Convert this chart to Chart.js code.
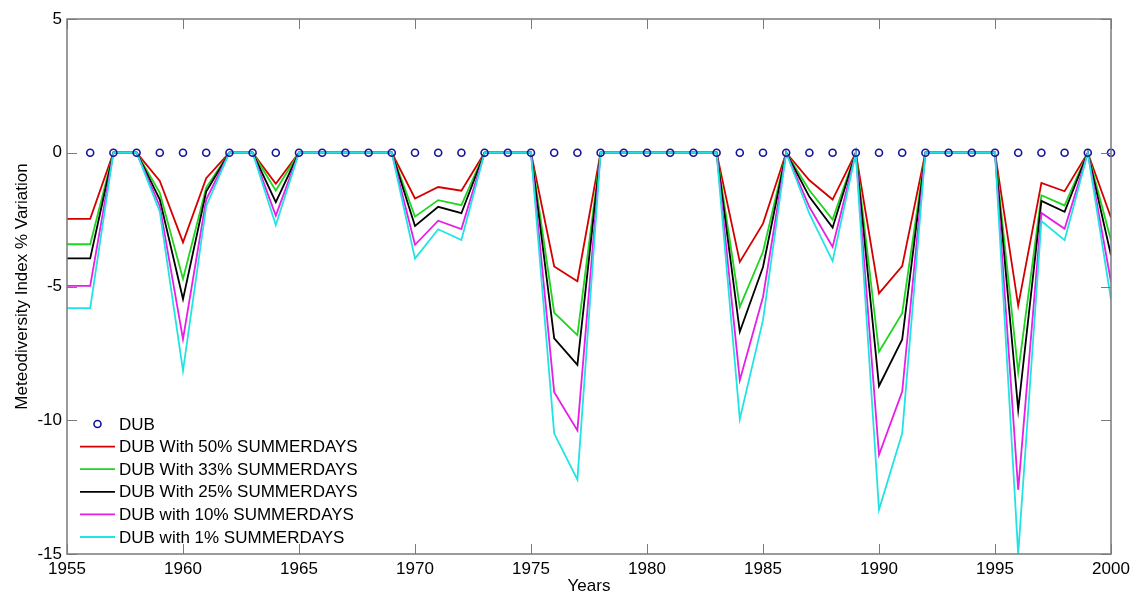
<!DOCTYPE html>
<html>
<head>
<meta charset="utf-8">
<title>Meteodiversity Index</title>
<script src="https://cdn.jsdelivr.net/npm/chart.js@4.4.1/dist/chart.umd.min.js"></script>
<style>
  html, body { margin: 0; padding: 0; background: #fff; }
  #wrap { width: 1136px; height: 595px; }
</style>
</head>
<body>
<div id="wrap"><canvas id="mdiChart" width="1136" height="595"></canvas></div>
<script>
// years on the x axis, one value per year for every series
const years = [
  1955, 1956, 1957, 1958, 1959, 1960, 1961, 1962, 1963, 1964,
  1965, 1966, 1967, 1968, 1969, 1970, 1971, 1972, 1973, 1974,
  1975, 1976, 1977, 1978, 1979, 1980, 1981, 1982, 1983, 1984,
  1985, 1986, 1987, 1988, 1989, 1990, 1991, 1992, 1993, 1994,
  1995, 1996, 1997, 1998, 1999, 2000
];

// baseline DUB (no value for 1955)
const dub = [
  null, 0, 0, 0, 0, 0, 0, 0, 0, 0,
  0, 0, 0, 0, 0, 0, 0, 0, 0, 0,
  0, 0, 0, 0, 0, 0, 0, 0, 0, 0,
  0, 0, 0, 0, 0, 0, 0, 0, 0, 0,
  0, 0, 0, 0, 0, 0
];

const summer50 = [
  -2.47, -2.47, 0, 0, -1.05, -3.35, -0.95, 0, 0, -1.16,
  0, 0, 0, 0, 0, -1.71, -1.28, -1.42, 0, 0,
  0, -4.25, -4.8, 0, 0, 0, 0, 0, 0, -4.08,
  -2.65, 0, -1.03, -1.75, 0, -5.26, -4.24, 0, 0, 0,
  0, -5.72, -1.13, -1.44, 0, -2.43
];

const summer33 = [
  -3.42, -3.42, 0, 0, -1.5, -4.72, -1.3, 0, 0, -1.41,
  0, 0, 0, 0, 0, -2.39, -1.77, -1.96, 0, 0,
  0, -5.98, -6.82, 0, 0, 0, 0, 0, 0, -5.76,
  -3.7, 0, -1.4, -2.5, 0, -7.44, -6.0, 0, 0, 0,
  0, -8.21, -1.59, -1.97, 0, -3.27
];

const summer25 = [
  -3.95, -3.95, 0, 0, -1.75, -5.47, -1.45, 0, 0, -1.85,
  0, 0, 0, 0, 0, -2.74, -2.02, -2.26, 0, 0,
  0, -6.94, -7.93, 0, 0, 0, 0, 0, 0, -6.69,
  -4.27, 0, -1.65, -2.8, 0, -8.72, -6.98, 0, 0, 0,
  0, -9.61, -1.8, -2.21, 0, -3.83
];

const summer10 = [
  -4.98, -4.98, 0, 0, -2.0, -6.97, -1.75, 0, 0, -2.35,
  0, 0, 0, 0, 0, -3.44, -2.54, -2.85, 0, 0,
  0, -8.95, -10.38, 0, 0, 0, 0, 0, 0, -8.5,
  -5.39, 0, -2.03, -3.52, 0, -11.29, -8.93, 0, 0, 0,
  0, -12.6, -2.25, -2.84, 0, -4.83
];

const summer1 = [
  -5.81, -5.81, 0, 0, -2.2, -8.15, -2.0, 0, 0, -2.7,
  0, 0, 0, 0, 0, -3.96, -2.86, -3.26, 0, 0,
  0, -10.5, -12.22, 0, 0, 0, 0, 0, 0, -9.96,
  -6.26, 0, -2.28, -4.05, 0, -13.35, -10.49, 0, 0, 0,
  0, -15.0, -2.55, -3.27, 0, -5.49
];

const xTicks = [1955, 1960, 1965, 1970, 1975, 1980, 1985, 1990, 1995, 2000];
const yTicks = [-15, -10, -5, 0, 5];

const FONT = '"Liberation Sans", Arial, sans-serif';
const AXIS_GREY = '#7a7a7a';

const toPoints = vals => years.map((yr, i) => ({ x: yr, y: vals[i] }));

function lineSet(label, vals, color, order) {
  return {
    label,
    data: toPoints(vals),
    borderColor: color,
    backgroundColor: color,
    borderWidth: 1.8,
    pointRadius: 0,
    tension: 0,
    order
  };
}

// box around the plot with matlab-style inward ticks
const frame = {
  id: 'frame',
  afterDraw(chart) {
    const { ctx, chartArea: a, scales } = chart;
    ctx.save();
    ctx.strokeStyle = AXIS_GREY;
    ctx.lineWidth = 1.5;
    ctx.strokeRect(a.left, a.top, a.right - a.left, a.bottom - a.top);
    ctx.lineWidth = 1;
    ctx.beginPath();
    const len = 10;
    xTicks.forEach(v => {
      const px = Math.round(scales.x.getPixelForValue(v)) + 0.5;
      ctx.moveTo(px, a.bottom); ctx.lineTo(px, a.bottom - len);
      ctx.moveTo(px, a.top); ctx.lineTo(px, a.top + len);
    });
    yTicks.forEach(v => {
      const py = Math.round(scales.y.getPixelForValue(v)) + 0.5;
      ctx.moveTo(a.left, py); ctx.lineTo(a.left + len, py);
      ctx.moveTo(a.right, py); ctx.lineTo(a.right - len, py);
    });
    ctx.stroke();
    ctx.restore();
  }
};

// legend sitting inside the lower-left corner of the plot
const innerLegend = {
  id: 'innerLegend',
  afterDraw(chart) {
    const { ctx, chartArea: a } = chart;
    const x0 = a.left + 13, x1 = a.left + 48, tx = a.left + 52;
    let y = a.bottom - 130;
    ctx.save();
    ctx.font = '17px ' + FONT;
    ctx.textBaseline = 'middle';
    ctx.textAlign = 'left';
    chart.data.datasets.forEach(ds => {
      ctx.strokeStyle = ds.borderColor;
      if (ds.showLine === false) {
        ctx.lineWidth = ds.pointBorderWidth;
        ctx.beginPath();
        ctx.arc((x0 + x1) / 2, y, ds.pointRadius, 0, Math.PI * 2);
        ctx.stroke();
      } else {
        ctx.lineWidth = ds.borderWidth;
        ctx.beginPath();
        ctx.moveTo(x0, y); ctx.lineTo(x1, y);
        ctx.stroke();
      }
      ctx.fillStyle = '#000';
      ctx.fillText(ds.label, tx, y + 1);
      y += 22.6;
    });
    ctx.restore();
  }
};

new Chart(document.getElementById('mdiChart'), {
  type: 'line',
  data: {
    datasets: [
      {
        label: 'DUB',
        data: toPoints(dub),
        showLine: false,
        borderColor: '#14149a',
        backgroundColor: 'rgba(0,0,0,0)',
        pointStyle: 'circle',
        pointRadius: 3.5,
        pointBorderWidth: 1.6,
        pointBorderColor: '#14149a',
        pointBackgroundColor: 'rgba(0,0,0,0)',
        clip: 8,
        order: 0
      },
      lineSet('DUB With 50% SUMMERDAYS', summer50, '#d40000', 5),
      lineSet('DUB With 33% SUMMERDAYS', summer33, '#1fd61f', 4),
      lineSet('DUB With 25% SUMMERDAYS', summer25, '#000000', 3),
      lineSet('DUB with 10% SUMMERDAYS', summer10, '#e61ee6', 2),
      lineSet('DUB with 1% SUMMERDAYS', summer1, '#22e3e3', 1)
    ]
  },
  options: {
    responsive: false,
    animation: false,
    events: [],
    layout: { padding: { top: 19, right: 25, left: 0, bottom: 0 } },
    plugins: {
      legend: { display: false },
      tooltip: { enabled: false }
    },
    scales: {
      x: {
        type: 'linear',
        min: 1955,
        max: 2000,
        afterFit: s => { s.height = 41; },
        afterBuildTicks: s => { s.ticks = xTicks.map(v => ({ value: v })); },
        grid: { display: false, drawTicks: false },
        border: { display: false },
        ticks: {
          padding: 5,
          color: '#000',
          font: { family: FONT, size: 17 },
          maxRotation: 0,
          callback: v => String(v)
        },
        title: {
          display: true,
          text: 'Years',
          color: '#000',
          font: { family: FONT, size: 17, lineHeight: 1 },
          padding: { top: 0, bottom: 0 }
        }
      },
      y: {
        min: -15,
        max: 5,
        afterFit: s => { s.width = 67; },
        afterBuildTicks: s => { s.ticks = yTicks.map(v => ({ value: v })); },
        grid: { display: false, drawTicks: false },
        border: { display: false },
        ticks: {
          padding: 5,
          color: '#000',
          font: { family: FONT, size: 17 },
          callback: v => String(v)
        },
        title: {
          display: true,
          text: 'Meteodiversity Index % Variation',
          color: '#000',
          font: { family: FONT, size: 17, lineHeight: 1 },
          padding: { top: 14, bottom: 0 }
        }
      }
    }
  },
  plugins: [frame, innerLegend]
});
</script>
</body>
</html>
